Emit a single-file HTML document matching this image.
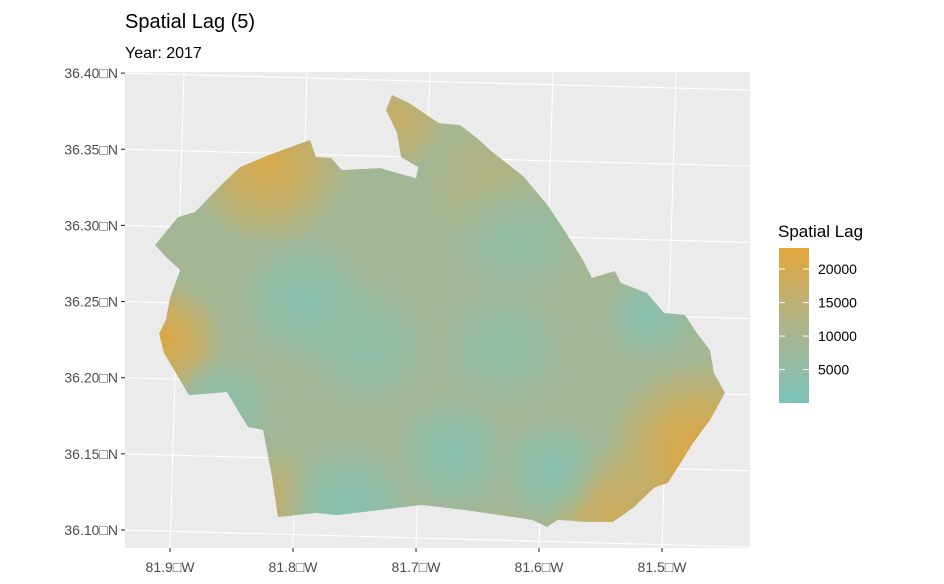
<!DOCTYPE html>
<html><head><meta charset="utf-8"><style>
body{margin:0;background:#fff;}
svg{display:block;font-family:"Liberation Sans","DejaVu Sans",sans-serif;}
</style></head><body>
<svg id="chart" width="944" height="584" viewBox="0 0 944 584">
<defs>
<linearGradient id="legGrad" x1="0" y1="1" x2="0" y2="0">
<stop offset="0" stop-color="#7BC3BA"/><stop offset="0.5" stop-color="#AEB48A"/><stop offset="1" stop-color="#E3A53A"/>
</linearGradient>
<clipPath id="countyClip"><path id="clipPathShape"/></clipPath>
<clipPath id="panelClip"><rect x="125" y="72" width="625" height="476"/></clipPath>
</defs>
<text x="125" y="28" font-size="20" fill="#000">Spatial Lag (5)</text>
<text x="125" y="58" font-size="16" fill="#000">Year: 2017</text>
<rect x="125" y="72" width="625" height="476" fill="#EBEBEB"/>
<g id="grid" clip-path="url(#panelClip)"></g>
<g id="mapLayer" clip-path="url(#panelClip)"></g>
<g id="axes"></g>
<g id="legend"></g>
</svg>
<script>
const latTicks=[36.40,36.35,36.30,36.25,36.20,36.15,36.10];
const latLabels=["36.40\u25A1N","36.35\u25A1N","36.30\u25A1N","36.25\u25A1N","36.20\u25A1N","36.15\u25A1N","36.10\u25A1N"];
const lonTicks=[-81.9,-81.8,-81.7,-81.6,-81.5];
const lonLabels=["81.9\u25A1W","81.8\u25A1W","81.7\u25A1W","81.6\u25A1W","81.5\u25A1W"];
const legendBreaks=[20000,15000,10000,5000];
const legendRange=[0,23150];
const boundaryLon=[-81.9122,-81.8935,-81.8797,-81.8569,-81.8431,-81.8195,-81.7862,-81.7813,-81.7691,-81.7602,-81.7293,-81.7154,-81.7000,-81.6984,-81.7122,-81.7154,-81.7244,-81.7195,-81.7057,-81.6813,-81.6642,-81.6504,-81.6398,-81.6122,-81.5919,-81.5780,-81.5642,-81.5569,-81.5382,-81.5333,-81.5122,-81.4984,-81.4813,-81.4715,-81.4610,-81.4577,-81.4488,-81.4610,-81.4748,-81.4951,-81.5057,-81.5228,-81.5398,-81.5626,-81.5846,-81.5935,-81.6057,-81.6610,-81.6951,-81.7642,-81.7813,-81.8122,-81.8171,-81.8244,-81.8366,-81.8537,-81.8846,-81.9049,-81.9089,-81.9033,-81.9000,-81.8919,-81.9033];
const boundaryLat=[36.2871,36.3055,36.3088,36.3278,36.3383,36.3462,36.3561,36.3449,36.3443,36.3364,36.3377,36.3344,36.3311,36.3383,36.3449,36.3607,36.3758,36.3856,36.3804,36.3672,36.3659,36.3574,36.3495,36.3318,36.3121,36.2950,36.2773,36.2655,36.2701,36.2622,36.2556,36.2425,36.2412,36.2293,36.2182,36.2031,36.1900,36.1722,36.1571,36.1309,36.1282,36.1151,36.1053,36.1053,36.1066,36.1020,36.1066,36.1131,36.1164,36.1098,36.1112,36.1085,36.1348,36.1657,36.1676,36.1906,36.1886,36.2162,36.2293,36.2379,36.2523,36.2707,36.2793];
const hotLon=[-81.8210,-81.9050,-81.4700,-81.7150,-81.8220,-81.5400,-81.6400,-81.7900,-81.8550,-81.7550,-81.6700,-81.5900,-81.5100,-81.6300,-81.7400,-81.6200];
const hotLat=[36.3400,36.2250,36.1500,36.3700,36.1200,36.1100,36.3300,36.2500,36.1800,36.1150,36.1500,36.1400,36.2400,36.2200,36.2200,36.2900];
const hotVal=[21000,22000,23000,17000,16000,19000,13000,2500,3500,2000,2500,2500,2500,4500,4000,5000];
const hotRadius=[0.06,0.045,0.07,0.04,0.04,0.05,0.05,0.05,0.04,0.05,0.045,0.04,0.035,0.05,0.05,0.05];

const NS="http://www.w3.org/2000/svg";
const X0=170, KX=1230, Y0=530, KY=1523;
function xScale(lon){return X0+(lon-lonTicks[0])*KX;}
function yScale(lat){return Y0-(lat-latTicks[latTicks.length-1])*KY;}
function lerp(a,b,t){return Math.round(a+(b-a)*t);}
function colorScale(v){
  let t=(v-legendRange[0])/(legendRange[1]-legendRange[0]);t=Math.max(0,Math.min(1,t));
  const lo=[123,195,186],mid=[174,180,138],hi=[227,165,58];
  let c;
  if(t<0.5){const u=t/0.5;c=[lerp(lo[0],mid[0],u),lerp(lo[1],mid[1],u),lerp(lo[2],mid[2],u)];}
  else{const u=(t-0.5)/0.5;c=[lerp(mid[0],hi[0],u),lerp(mid[1],hi[1],u),lerp(mid[2],hi[2],u)];}
  return "rgb("+c.join(",")+")";
}
const grid=document.getElementById('grid');
const axes=document.getElementById('axes');
latTicks.forEach((lat,i)=>{
  const y=yScale(lat);
  const l=document.createElementNS(NS,'line');
  
  
  l.setAttribute('x1',125);l.setAttribute('y1',y);l.setAttribute('x2',750);l.setAttribute('y2',y+17);
  l.setAttribute('stroke','#fff');l.setAttribute('stroke-width','1.1');
  grid.appendChild(l);
  const tk=document.createElementNS(NS,'line');
  
  
  tk.setAttribute('x1',121);tk.setAttribute('x2',125);tk.setAttribute('y1',y);tk.setAttribute('y2',y);
  tk.setAttribute('stroke','#333');tk.setAttribute('stroke-width','1.1');
  axes.appendChild(tk);
  const t=document.createElementNS(NS,'text');
  
  
  t.setAttribute('x',118);t.setAttribute('y',y+5);t.setAttribute('text-anchor','end');
  t.setAttribute('font-size','14');t.setAttribute('fill','#4D4D4D');
  t.textContent=latLabels[i];axes.appendChild(t);
});
lonTicks.forEach((lon,i)=>{
  const x=xScale(lon);
  const l=document.createElementNS(NS,'line');
  
  
  l.setAttribute('x1',x);l.setAttribute('y1',548);l.setAttribute('x2',x+14);l.setAttribute('y2',72);
  l.setAttribute('stroke','#fff');l.setAttribute('stroke-width','1.1');
  grid.appendChild(l);
  const tk=document.createElementNS(NS,'line');
  
  
  tk.setAttribute('x1',x);tk.setAttribute('x2',x);tk.setAttribute('y1',548);tk.setAttribute('y2',552);
  tk.setAttribute('stroke','#333');tk.setAttribute('stroke-width','1.1');
  axes.appendChild(tk);
  const t=document.createElementNS(NS,'text');
  
  
  t.setAttribute('x',x);t.setAttribute('y',572);t.setAttribute('text-anchor','middle');
  t.setAttribute('font-size','14');t.setAttribute('fill','#4D4D4D');
  t.textContent=lonLabels[i];axes.appendChild(t);
});
let d="";
boundaryLon.forEach((lon,i)=>{d+=(i?"L":"M")+xScale(lon).toFixed(1)+","+yScale(boundaryLat[i]).toFixed(1);});
d+="Z";
document.getElementById('clipPathShape').setAttribute('d',d);
const map=document.getElementById('mapLayer');
const g=document.createElementNS(NS,'g');


g.setAttribute('clip-path','url(#countyClip)');
map.appendChild(g);
const base=document.createElementNS(NS,'path');


base.setAttribute('d',d);base.setAttribute('fill',colorScale(9000));
g.appendChild(base);
const defs=document.querySelector('defs');
hotLon.forEach((lon,i)=>{
  const id='hg'+i;
  const rg=document.createElementNS(NS,'radialGradient');
  rg.setAttribute('id',id);
  const c=colorScale(hotVal[i]);
  [[0,0.95],[0.5,0.6],[1,0]].forEach(s=>{const st=document.createElementNS(NS,'stop');st.setAttribute('offset',s[0]);st.setAttribute('stop-color',c);st.setAttribute('stop-opacity',s[1]);rg.appendChild(st);});
  defs.appendChild(rg);
  const e=document.createElementNS(NS,'ellipse');
  
  
  e.setAttribute('cx',xScale(lon));e.setAttribute('cy',yScale(hotLat[i]));
  e.setAttribute('rx',hotRadius[i]*KX*1.1);e.setAttribute('ry',hotRadius[i]*KX*1.1);
  e.setAttribute('fill','url(#'+id+')');
  g.appendChild(e);
});
const leg=document.getElementById('legend');
const lt=document.createElementNS(NS,'text');


lt.setAttribute('x',778);lt.setAttribute('y',237);lt.setAttribute('font-size','17');lt.setAttribute('fill','#000');
lt.textContent="Spatial Lag";leg.appendChild(lt);
const LT=248,LB=403;
function legY(v){return LB-(v-legendRange[0])/(legendRange[1]-legendRange[0])*(LB-LT);}
const bar=document.createElementNS(NS,'rect');


bar.setAttribute('x',779);bar.setAttribute('y',LT);bar.setAttribute('width',30);bar.setAttribute('height',LB-LT);bar.setAttribute('fill','url(#legGrad)');
leg.appendChild(bar);
legendBreaks.forEach(v=>{
  const y=legY(v);
  [[779,785],[803,809]].forEach(p=>{const m=document.createElementNS(NS,'line');
    
    
    m.setAttribute('x1',p[0]);m.setAttribute('x2',p[1]);m.setAttribute('y1',y);m.setAttribute('y2',y);m.setAttribute('stroke','#fff');m.setAttribute('stroke-width','1');leg.appendChild(m);});
  const t=document.createElementNS(NS,'text');
  
  
  t.setAttribute('x',818);t.setAttribute('y',y+5);t.setAttribute('font-size','14');t.setAttribute('fill','#000');
  t.textContent=String(v);leg.appendChild(t);
});
</script>
</body></html>
